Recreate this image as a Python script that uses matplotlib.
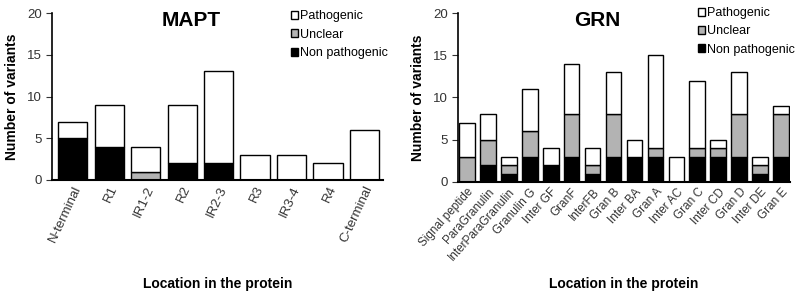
import numpy as np
import matplotlib.pyplot as plt
from matplotlib.patches import Patch

plt.rcParams['font.family'] = ['Liberation Sans', 'DejaVu Sans']

mapt_regions = ["N-terminal", "R1", "IR1-2", "R2", "IR2-3", "R3", "IR3-4", "R4", "C-terminal"]
mapt_non = [5, 4, 0, 2, 2, 0, 0, 0, 0]
mapt_unclear = [0, 0, 1, 0, 0, 0, 0, 0, 0]
mapt_path = [2, 5, 3, 7, 11, 3, 3, 2, 6]

grn_regions = ["Signal peptide", "ParaGranulin", "InterParaGranulin", "Granulin G", "Inter GF",
               "GranF", "InterFB", "Gran B", "Inter BA", "Gran A", "Inter AC", "Gran C",
               "Inter CD", "Gran D", "Inter DE", "Gran E"]
grn_non = [0, 2, 1, 3, 2, 3, 1, 3, 3, 3, 0, 3, 3, 3, 1, 3]
grn_unclear = [3, 3, 1, 3, 0, 5, 1, 5, 0, 1, 0, 1, 1, 5, 1, 5]
grn_path = [4, 3, 1, 5, 2, 6, 2, 5, 2, 11, 3, 8, 1, 5, 1, 1]

series_names = ["Pathogenic", "Unclear", "Non pathogenic"]
colors = {"Pathogenic": "white", "Unclear": "#b3b3b3", "Non pathogenic": "black"}
text_col = "#333333"


def draw(ax, title, regions, non, unclear, path, width, rot, xlim, tsize, leg_y, xlab_y):
    x = np.arange(len(regions))
    non = np.array(non)
    unclear = np.array(unclear)
    path = np.array(path)
    kw = dict(width=width, edgecolor="black", linewidth=1.0)
    ax.bar(x, non, color=colors["Non pathogenic"], **kw)
    ax.bar(x, unclear, bottom=non, color=colors["Unclear"], **kw)
    ax.bar(x, path, bottom=non + unclear, color=colors["Pathogenic"], **kw)
    ax.set_ylim(0, 20)
    ax.set_xlim(*xlim)
    ax.set_yticks([0, 5, 10, 15, 20])
    ax.tick_params(axis="y", direction="out", length=4, labelsize=9.5, colors=text_col)
    ax.tick_params(axis="x", length=0, labelsize=tsize, colors=text_col, pad=3)
    ax.set_xticks(x)
    ax.set_xticklabels(regions, rotation=rot, ha="right", rotation_mode="anchor")
    for s in ["top", "right"]:
        ax.spines[s].set_visible(False)
    ax.spines["left"].set_linewidth(1.2)
    ax.spines["bottom"].set_linewidth(1.5)
    ax.set_ylabel("Number of variants", fontsize=10, fontweight="bold")
    ax.yaxis.set_label_coords(-0.10, 0.5)
    ax.text(0.42, 1.01, title, transform=ax.transAxes, ha="center", va="top",
            fontsize=15, fontweight="bold")
    ax.set_xlabel("Location in the protein", fontsize=10, fontweight="bold")
    ax.xaxis.set_label_coords(0.5, xlab_y)
    handles = [Patch(facecolor=colors[n], edgecolor="black", linewidth=1.0, label=n)
               for n in series_names]
    ax.legend(handles=handles, loc="upper right", bbox_to_anchor=(1.03, leg_y), frameon=False,
              fontsize=9, handlelength=0.6, handleheight=0.6, handletextpad=0.15,
              labelspacing=0.5, borderaxespad=0)


fig = plt.figure(figsize=(8, 2.96), dpi=100)
ax1 = fig.add_axes([52 / 800, (296 - 180) / 296, 331 / 800, 167 / 296])
ax2 = fig.add_axes([458 / 800, (296 - 182) / 296, 332 / 800, 169 / 296])

draw(ax1, "MAPT", mapt_regions, mapt_non, mapt_unclear, mapt_path, 0.8, 65,
     (-0.57, 8.51), 9.5, 1.045, -0.582)
draw(ax2, "GRN", grn_regions, grn_non, grn_unclear, grn_path, 0.75, 48,
     (-0.42, 15.42), 8.5, 1.065, -0.565)

fig.savefig("out.png", dpi=100)
